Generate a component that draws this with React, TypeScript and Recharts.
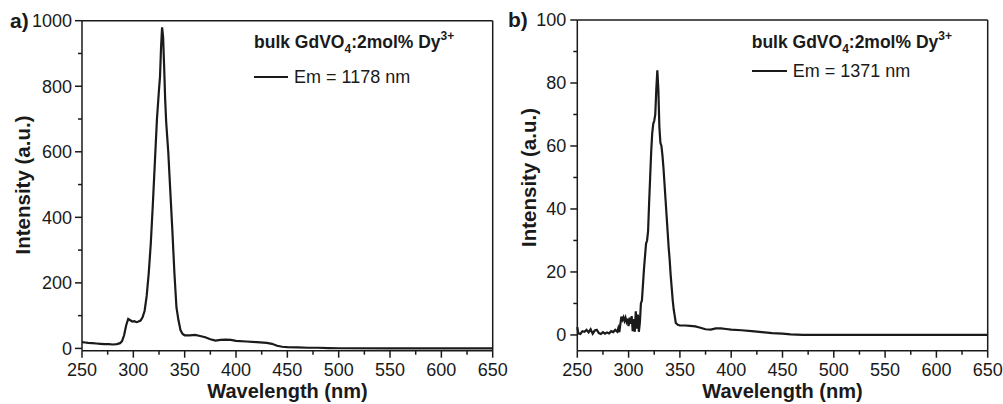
import React from 'react';
import { LineChart, Line, XAxis, YAxis, ReferenceLine } from 'recharts';

// ---- Data ----
const wavelengthA = [250, 253, 256, 260, 264, 268, 272, 276, 280, 284, 287, 289, 291, 293, 295, 297, 299, 301, 303, 305, 307, 309, 311, 313, 315, 317, 319, 321, 323, 325, 326, 327, 328, 329, 330, 331, 332, 334, 336, 338, 340, 342, 344, 346, 348, 350, 355, 360, 365, 370, 375, 380, 385, 390, 395, 400, 410, 420, 430, 435, 440, 445, 450, 460, 470, 480, 490, 500, 550, 600, 650];
const intensityA = [19, 18, 17, 16, 15, 14, 13, 13, 12, 13, 16, 22, 40, 70, 90, 86, 82, 83, 80, 82, 85, 95, 115, 160, 230, 320, 440, 570, 700, 790, 830, 920, 980, 950, 860, 760, 690, 600, 480, 360, 230, 125, 85, 55, 44, 40, 40, 41, 38, 34, 28, 24, 26, 27, 26, 23, 21, 19, 17, 14, 8, 5, 4, 3, 2, 2, 1, 0.5, 0.3, 0.2, 0.2];

const wavelengthB = [250, 251, 253, 255, 257, 259, 261, 263, 265, 267, 269, 271, 273, 275, 277, 279, 281, 283, 285, 287, 289, 290, 291, 292, 293, 294, 295, 296, 297, 298, 299, 300, 301, 302, 303, 304, 305, 306, 307, 308, 309, 310, 311, 312, 313, 314, 315, 316, 317, 318, 319, 320, 321, 322, 323, 324, 325, 326, 327, 328, 329, 330, 331, 332, 333, 334, 335, 336, 337, 338, 339, 340, 341, 342, 343, 344, 345, 346, 348, 350, 355, 360, 365, 370, 375, 380, 385, 390, 395, 400, 410, 420, 430, 440, 450, 458, 470, 650];
const intensityB = [2.5, 0.5, 0.3, 1.2, 1.0, 1.6, 0.8, 1.8, 0.4, 1.4, 1.6, 0.6, 0.3, 0.9, 0.4, 0.8, 0.5, 1.2, 0.9, 1.6, 1.0, 2.2, 0.9, 3.5, 5.8, 4.8, 5.6, 4.5, 5.5, 4.2, 5.2, 2.8, 5.5, 3.5, 6.0, 1.2, 5.0, 1.0, 7.5, 2.0, 6.5, 1.0, 4.0, 10, 11, 16, 21, 25, 29, 30, 33, 42, 50, 58, 64, 67, 68, 70, 78, 84, 78, 66, 61, 60, 57, 53, 48, 43, 38, 33, 28, 24, 19, 15, 11, 8, 6, 3.8, 3.2, 3.0, 3.0, 2.9, 2.7, 2.3, 1.8, 1.7, 2.1, 2.1, 1.9, 1.7, 1.5, 1.2, 0.9, 0.6, 0.4, 0.2, 0.05, 0.05];

const xTicks = [250, 275, 300, 325, 350, 375, 400, 425, 450, 475, 500, 525, 550, 575, 600, 625, 650];
const xMajor = [250, 300, 350, 400, 450, 500, 550, 600, 650];
const yTicksA = [0, 100, 200, 300, 400, 500, 600, 700, 800, 900, 1000];
const yMajorA = [0, 200, 400, 600, 800, 1000];
const yTicksB = [0, 10, 20, 30, 40, 50, 60, 70, 80, 90, 100];
const yMajorB = [0, 20, 40, 60, 80, 100];

const dataA = wavelengthA.map((wl, i) => ({ wl, v: intensityA[i] }));
const dataB = wavelengthB.map((wl, i) => ({ wl, v: intensityB[i] }));

const FONT = '"Liberation Sans", Arial, Helvetica, sans-serif';
const INK = '#1a1a1a';
const TICK_SIZE = 7;
const MINOR_SIZE = 4;

const makeXTick = (major: number[], margin: number) => (props: any) => {
  const { x, y, payload } = props;
  const axisY = y - margin - TICK_SIZE;
  const isMajor = major.includes(payload.value);
  return (
    <g>
      <line x1={x} x2={x} y1={axisY} y2={axisY + (isMajor ? TICK_SIZE : MINOR_SIZE)} stroke={INK} strokeWidth={1.5} />
      {isMajor && (
        <text x={x} y={y + 12} textAnchor="middle" fontSize={18} fontFamily={FONT} fill={INK}>
          {payload.value}
        </text>
      )}
    </g>
  );
};

const makeYTick = (major: number[], margin: number) => (props: any) => {
  const { x, y, payload } = props;
  const axisX = x + margin + TICK_SIZE;
  const isMajor = major.includes(payload.value);
  return (
    <g>
      <line x1={axisX} x2={axisX - (isMajor ? TICK_SIZE : MINOR_SIZE)} y1={y} y2={y} stroke={INK} strokeWidth={1.5} />
      {isMajor && (
        <text x={x} y={y} dy="0.35em" textAnchor="end" fontSize={18} fontFamily={FONT} fill={INK}>
          {payload.value}
        </text>
      )}
    </g>
  );
};

const axisLine = { stroke: INK, strokeWidth: 1.5 };

export default function App() {
  return (
    <div style={{ position: 'absolute', left: 0, top: 0, width: 1003, height: 404, background: '#fff' }}>
      <div style={{ position: 'absolute', left: 0, top: 0 }}>
        <LineChart width={520} height={404} data={dataA} margin={{ top: 20.7, right: 27.3, left: 0, bottom: 23.3 }}>
          <XAxis
            dataKey="wl"
            type="number"
            domain={[250, 650]}
            ticks={xTicks}
            interval={0}
            height={30}
            tickSize={TICK_SIZE}
            tickMargin={6.5}
            tickLine={false}
            axisLine={axisLine}
            tick={makeXTick(xMajor, 6.5)}
          />
          <YAxis
            type="number"
            domain={[-7, 1000]}
            ticks={yTicksA}
            interval={0}
            width={82}
            tickSize={TICK_SIZE}
            tickMargin={3}
            tickLine={false}
            axisLine={axisLine}
            tick={makeYTick(yMajorA, 3)}
            allowDataOverflow
          />
          <ReferenceLine y={1000} stroke={INK} strokeWidth={1.5} />
          <ReferenceLine x={650} stroke={INK} strokeWidth={1.5} />
          <Line type="linear" dataKey="v" stroke={INK} strokeWidth={2.2} dot={false} isAnimationActive={false} />
        </LineChart>
      </div>
      <div style={{ position: 'absolute', left: 500, top: 0 }}>
        <LineChart width={503} height={404} data={dataB} margin={{ top: 20, right: 15.3, left: 0, bottom: 23.3 }}>
          <XAxis
            dataKey="wl"
            type="number"
            domain={[250, 650]}
            ticks={xTicks}
            interval={0}
            height={30}
            tickSize={TICK_SIZE}
            tickMargin={6.5}
            tickLine={false}
            axisLine={axisLine}
            tick={makeXTick(xMajor, 6.5)}
          />
          <YAxis
            type="number"
            domain={[-5, 100]}
            ticks={yTicksB}
            interval={0}
            width={77.3}
            tickSize={TICK_SIZE}
            tickMargin={4}
            tickLine={false}
            axisLine={axisLine}
            tick={makeYTick(yMajorB, 4)}
            allowDataOverflow
          />
          <ReferenceLine y={100} stroke={INK} strokeWidth={1.5} />
          <ReferenceLine x={650} stroke={INK} strokeWidth={1.5} />
          <Line type="linear" dataKey="v" stroke={INK} strokeWidth={2.2} dot={false} isAnimationActive={false} />
        </LineChart>
      </div>
      <svg width={1003} height={404} style={{ position: 'absolute', left: 0, top: 0, pointerEvents: 'none' }} fontFamily={FONT} fill={INK}>
        <text x={10} y={28} fontSize={21} fontWeight="bold">a)</text>
        <text x={508} y={27} fontSize={21} fontWeight="bold">b)</text>

        <text x={254} y={48} fontSize={17.5} fontWeight="bold">
          <tspan>bulk GdVO</tspan>
          <tspan fontSize={12} dy={5}>4</tspan>
          <tspan dy={-5}>:2mol% Dy</tspan>
          <tspan fontSize={12} dy={-8}>3+</tspan>
        </text>
        <line x1={254} x2={288} y1={77} y2={77} stroke={INK} strokeWidth={2} />
        <text x={294} y={83} fontSize={18}>Em = 1178 nm</text>

        <text x={751.7} y={48} fontSize={17.5} fontWeight="bold">
          <tspan>bulk GdVO</tspan>
          <tspan fontSize={12} dy={5}>4</tspan>
          <tspan dy={-5}>:2mol% Dy</tspan>
          <tspan fontSize={12} dy={-8}>3+</tspan>
        </text>
        <line x1={752} x2={787} y1={71} y2={71} stroke={INK} strokeWidth={2} />
        <text x={792.7} y={77} fontSize={18}>Em = 1371 nm</text>

        <text x={287.5} y={398} fontSize={20} fontWeight="bold" textAnchor="middle">Wavelength (nm)</text>
        <text x={782.5} y={398} fontSize={20} fontWeight="bold" textAnchor="middle">Wavelength (nm)</text>

        <text transform="translate(30,185) rotate(-90)" fontSize={20.5} fontWeight="bold" textAnchor="middle">Intensity (a.u.)</text>
        <text transform="translate(536,177.5) rotate(-90)" fontSize={20.5} fontWeight="bold" textAnchor="middle">Intensity (a.u.)</text>
      </svg>
    </div>
  );
}
